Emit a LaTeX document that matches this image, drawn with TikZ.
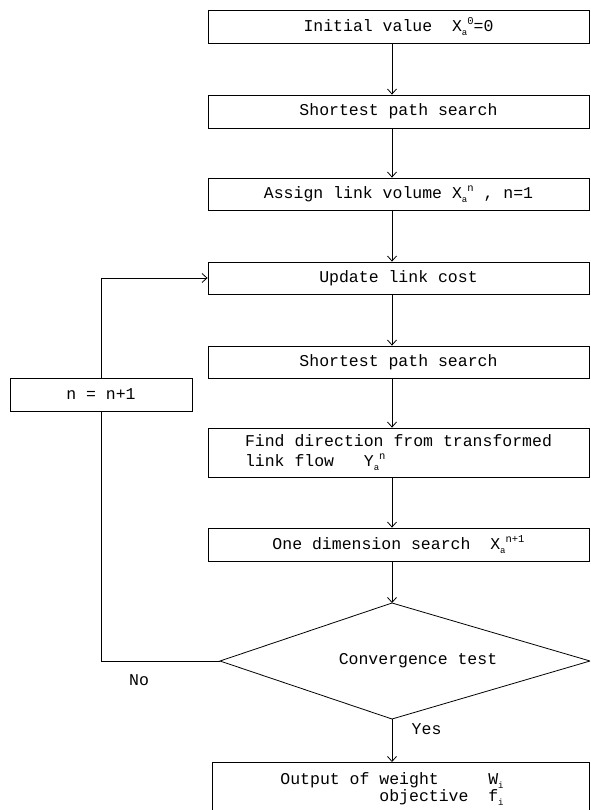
\documentclass[tikz,border=0pt]{standalone}
\usepackage{fontspec}
\setmainfont{Liberation Mono}
\usetikzlibrary{arrows.meta}
\newcommand\subsup[2]{\raisebox{-0.45ex}{\fontsize{9}{9}\selectfont #1}\raisebox{0.8ex}{\fontsize{10.5}{10.5}\selectfont #2}}
\begin{document}
\begin{tikzpicture}[x=1pt,y=-1pt,
  font=\fontsize{16.5}{17}\selectfont,
  line width=0.8pt,
  box/.style={draw, rectangle, minimum width=381pt, minimum height=33pt, inner sep=0pt},
  arr/.style={-{Straight Barb[length=5pt,width=9pt]}}]
\useasboundingbox (0,0) rectangle (590,810);
\clip (0,0) rectangle (590,810);

\node[box] (b1) at (398.5,26.5) {Initial value~~X\subsup{a}{0}=0};
\node[box] (b2) at (398.5,111.5) {Shortest path search};
\node[box, minimum height=32pt] (b3) at (398.5,194) {Assign link volume X\subsup{a}{n} , n=1};
\node[box, minimum height=32pt] (b4) at (398.5,278) {Update link cost};
\node[box, minimum height=32pt] (b5) at (398.5,362) {Shortest path search};
\node[box, minimum height=49pt, align=left, font=\fontsize{16.5}{19.5}\selectfont] (b6) at (398.5,452.5) {Find direction from transformed\\link flow~~~Y\subsup{a}{n}};
\node[box] (b7) at (398.5,544.5) {One dimension search~~X\subsup{a}{n+1}};
\node[box, minimum width=182pt] (n) at (101,394.5) {n = n+1};

\coordinate (dt) at (392,603);
\coordinate (dr) at (590,661);
\coordinate (db) at (392,719);
\coordinate (dl) at (220,661);
\draw (dt) -- (dr) -- (db) -- (dl) -- cycle;
\node (conv) at (418,661) {Convergence test};

\node[box, minimum width=377pt, minimum height=80pt, anchor=north] (out) at (400.5,762) {};
\node[anchor=north west, align=left, inner sep=0pt] (outtxt) at (280,772)
  {Output of weight~~~~~W\subsup{i}{}\\~~~~~~~~~~objective~~f\subsup{i}{}};

\node[anchor=west] (yes) at (408,729) {Yes};
\node (no) at (139,680) {No};

\coordinate (ax) at (392,0);
\draw[arr] (b1.south -| ax) -- (b2.north -| ax);
\draw[arr] (b2.south -| ax) -- (b3.north -| ax);
\draw[arr] (b3.south -| ax) -- (b4.north -| ax);
\draw[arr] (b4.south -| ax) -- (b5.north -| ax);
\draw[arr] (b5.south -| ax) -- (b6.north -| ax);
\draw[arr] (b6.south -| ax) -- (b7.north -| ax);
\draw[arr] (b7.south -| ax) -- (dt);
\draw[arr] (db) -- (out.north -| ax);
\draw (dl) -| (n.south);
\draw[arr] (n.north) |- (b4.west);
\end{tikzpicture}
\end{document}
